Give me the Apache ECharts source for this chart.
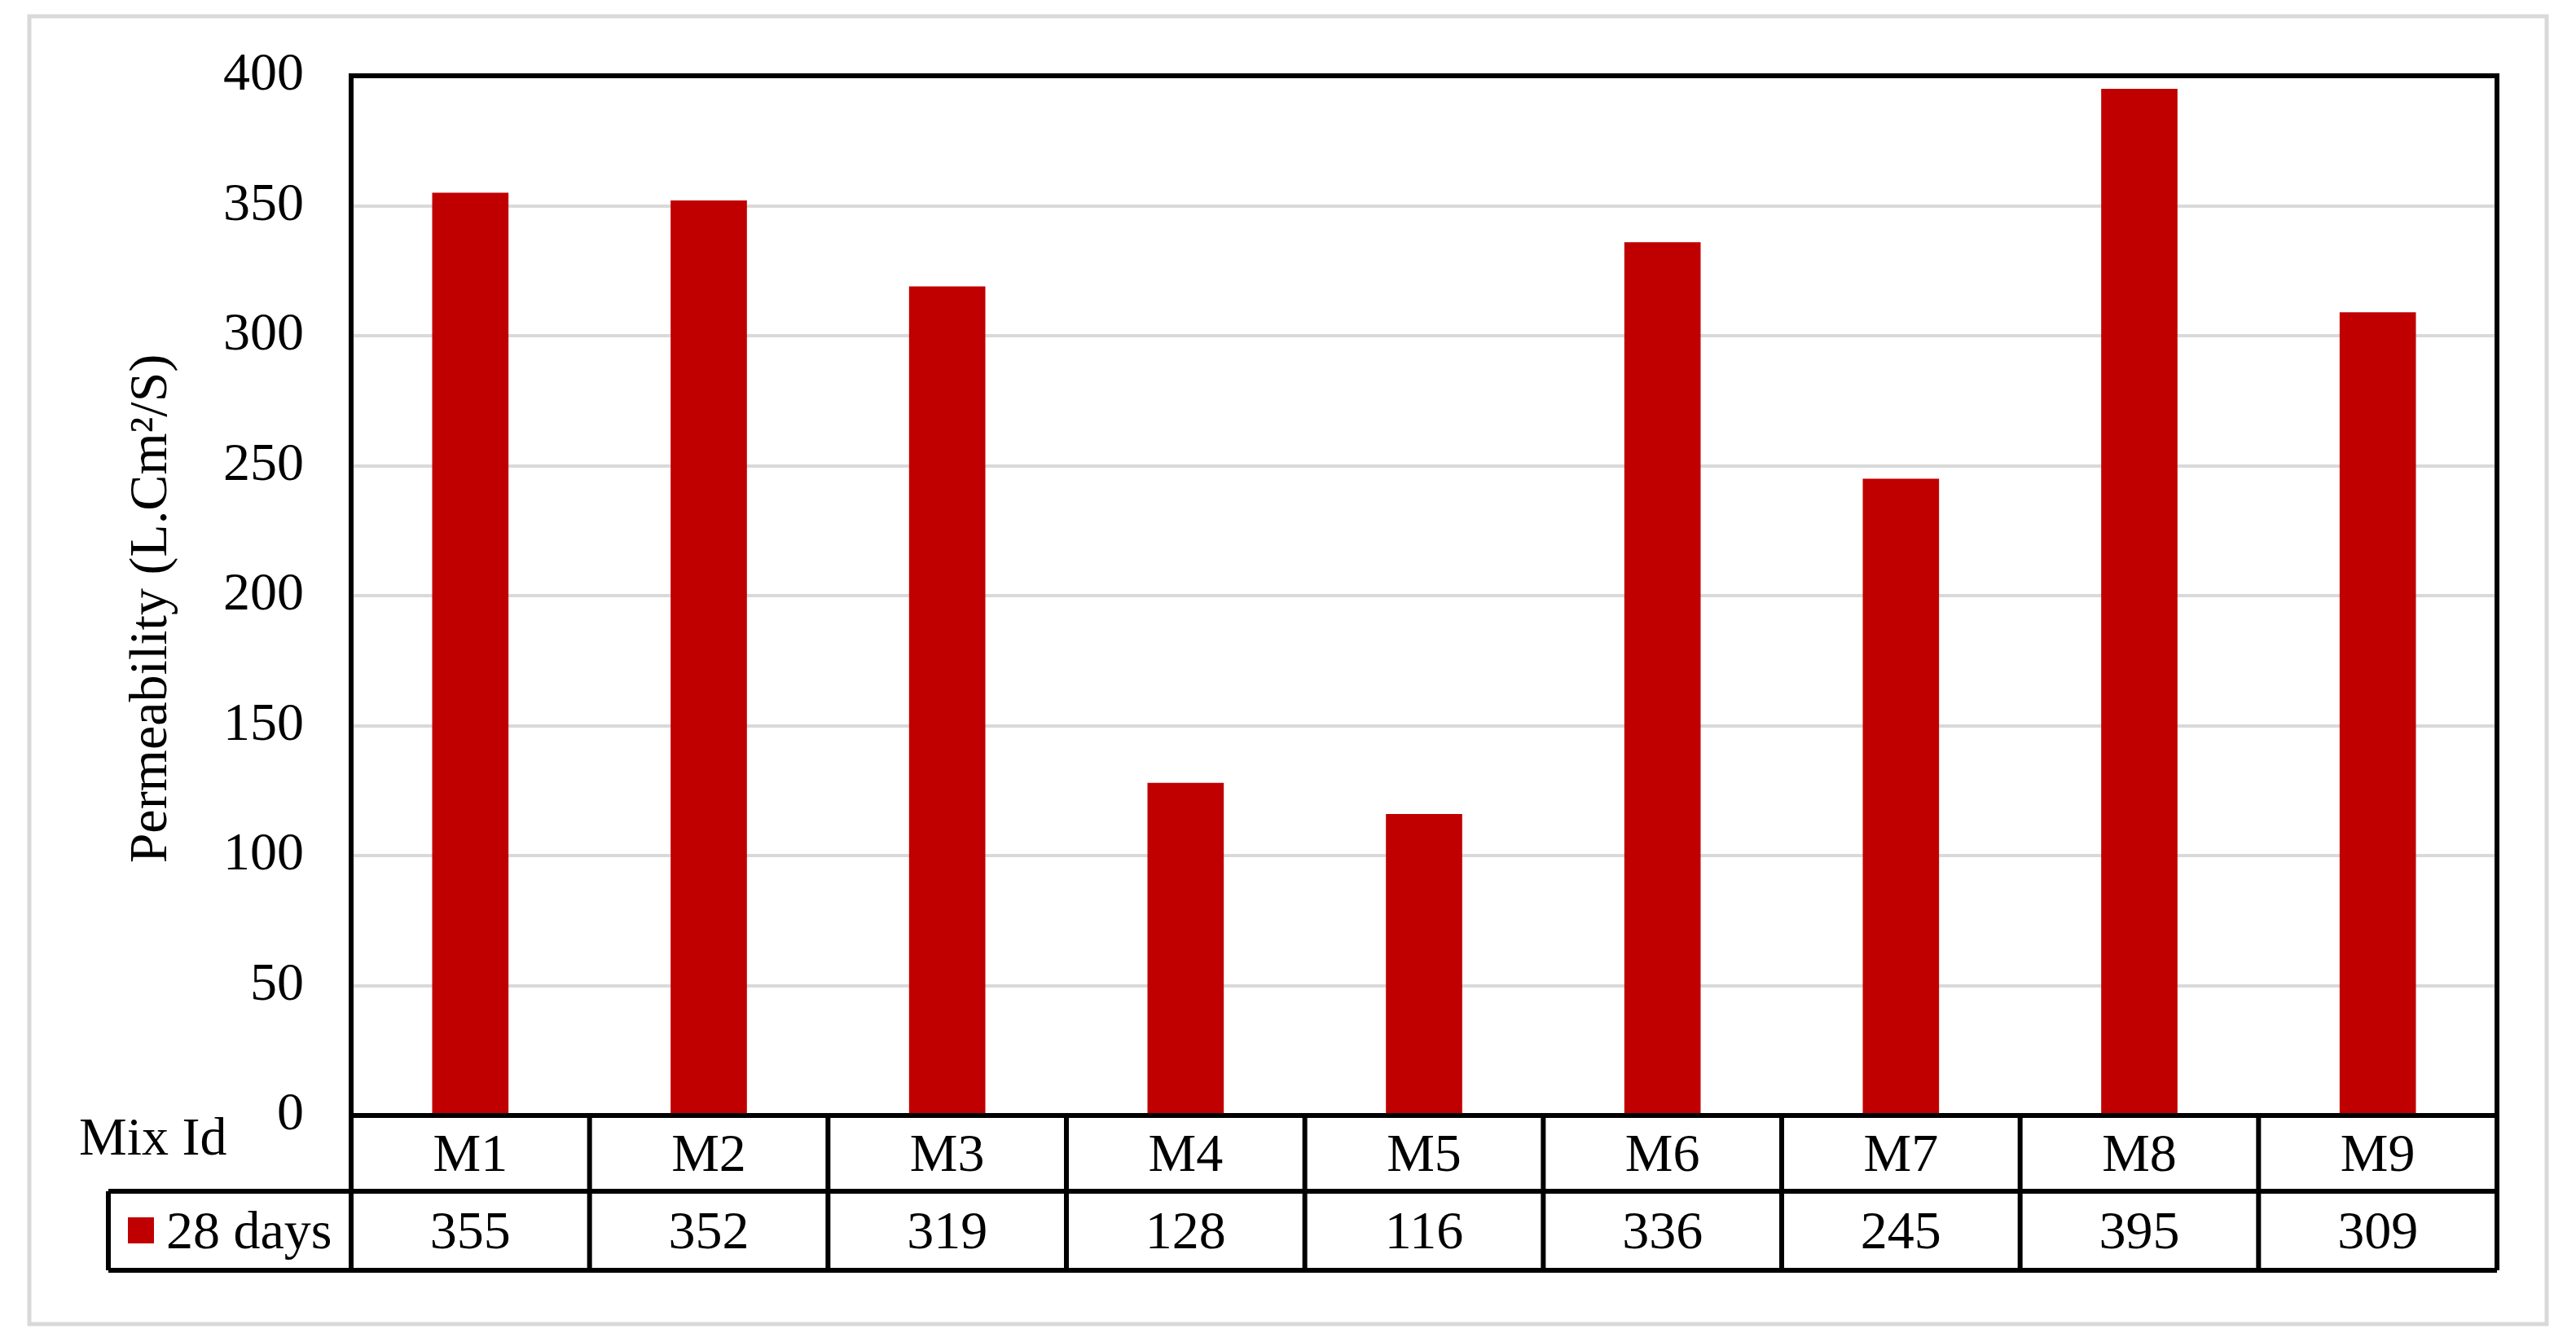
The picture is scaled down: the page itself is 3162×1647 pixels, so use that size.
<!DOCTYPE html>
<html>
<head>
<meta charset="utf-8">
<title>Permeability</title>
<script src="https://cdn.jsdelivr.net/npm/echarts@6/dist/echarts.min.js"></script>
<style>
  html, body { margin: 0; padding: 0; background: #fff; }
  #chart { width: 3162px; height: 1647px; }
</style>
</head>
<body>
<div id="chart"></div>
<script>
// 数据
const mixIds = ['M1', 'M2', 'M3', 'M4', 'M5', 'M6', 'M7', 'M8', 'M9']
const days28 = [355, 352, 319, 128, 116, 336, 245, 395, 309]
const yTicks = [0, 50, 100, 150, 200, 250, 300, 350, 400]
const seriesName = '28 days'

// 版面
const FONT = '"Liberation Serif", "Times New Roman", serif'
const FS = 66
const GRID_L = 431, GRID_R = 3065, GRID_T = 93, GRID_B = 1369
const ROW1_B = 1462, ROW2_B = 1559, TABLE_L = 133
const RED = '#c00000'
const LW = 6

const chart = echarts.init(document.getElementById('chart'))

// 表格线
const colW = (GRID_R - GRID_L) / mixIds.length
const lineStyle = { stroke: '#000', lineWidth: LW }
const tableLines = [
  // 绘图区边框
  { type: 'rect', shape: { x: GRID_L, y: GRID_T, width: GRID_R - GRID_L, height: GRID_B - GRID_T }, style: { fill: 'none', stroke: '#000', lineWidth: LW }, z: 100 },
  { type: 'line', shape: { x1: TABLE_L, y1: ROW1_B, x2: GRID_R, y2: ROW1_B }, style: lineStyle, z: 100 },
  { type: 'line', shape: { x1: TABLE_L, y1: ROW2_B, x2: GRID_R, y2: ROW2_B }, style: lineStyle, z: 100 },
  { type: 'line', shape: { x1: TABLE_L, y1: ROW1_B, x2: TABLE_L, y2: ROW2_B }, style: lineStyle, z: 100 }
]
for (let i = 0; i <= mixIds.length; i++) {
  const x = GRID_L + i * colW
  tableLines.push({ type: 'line', shape: { x1: x, y1: GRID_B, x2: x, y2: ROW2_B }, style: lineStyle, z: 100 })
}

chart.setOption({
  backgroundColor: '#fff',
  animation: false,
  grid: {
    left: GRID_L,
    right: 3162 - GRID_R,
    top: GRID_T,
    bottom: 1647 - GRID_B
  },
  xAxis: [
    {
      type: 'category',
      data: mixIds,
      position: 'bottom',
      axisLine: { show: false },
      axisTick: { show: false },
      axisLabel: {
        margin: (ROW1_B - GRID_B) / 2 + 4,
        verticalAlign: 'middle',
        fontFamily: FONT,
        fontSize: FS,
        color: '#000'
      }
    },
    {
      type: 'category',
      data: mixIds,
      position: 'bottom',
      axisLine: { show: false },
      axisTick: { show: false },
      axisLabel: {
        margin: (ROW1_B - GRID_B) + (ROW2_B - ROW1_B) / 2 + 4,
        verticalAlign: 'middle',
        fontFamily: FONT,
        fontSize: FS,
        color: '#000',
        formatter: (v, i) => String(days28[i])
      }
    }
  ],
  yAxis: {
    type: 'value',
    min: yTicks[0],
    max: yTicks[yTicks.length - 1],
    interval: yTicks[1] - yTicks[0],
    name: 'Permeability (L.Cm²/S)',
    nameLocation: 'middle',
    nameGap: 211,
    nameTextStyle: { fontFamily: FONT, fontSize: FS, color: '#000', padding: [0, 32, 0, 0] },
    axisLine: { show: false },
    axisTick: { show: false },
    axisLabel: { margin: 58, fontFamily: FONT, fontSize: FS, color: '#000' },
    splitLine: { lineStyle: { color: '#d9d9d9', width: 4 } }
  },
  series: [
    {
      name: seriesName,
      type: 'bar',
      data: days28,
      barWidth: '32%',
      itemStyle: { color: RED }
    }
  ],
  graphic: [
    // 外框
    {
      type: 'rect',
      shape: { x: 36, y: 20, width: 3126 - 36, height: 1625 - 20 },
      style: { fill: 'none', stroke: '#d9d9d9', lineWidth: 5 },
      z: 0
    },
    ...tableLines,
    {
      type: 'text',
      x: 97,
      y: 1400,
      style: { text: 'Mix Id', fontFamily: FONT, fontSize: FS, fill: '#000', verticalAlign: 'middle' }
    },
    {
      type: 'rect',
      shape: { x: 157, y: 1494, width: 32, height: 32 },
      style: { fill: RED }
    },
    {
      type: 'text',
      x: 204,
      y: (ROW1_B + ROW2_B) / 2 + 4,
      style: { text: seriesName, fontFamily: FONT, fontSize: FS, fill: '#000', verticalAlign: 'middle' }
    }
  ]
})
</script>
</body>
</html>
